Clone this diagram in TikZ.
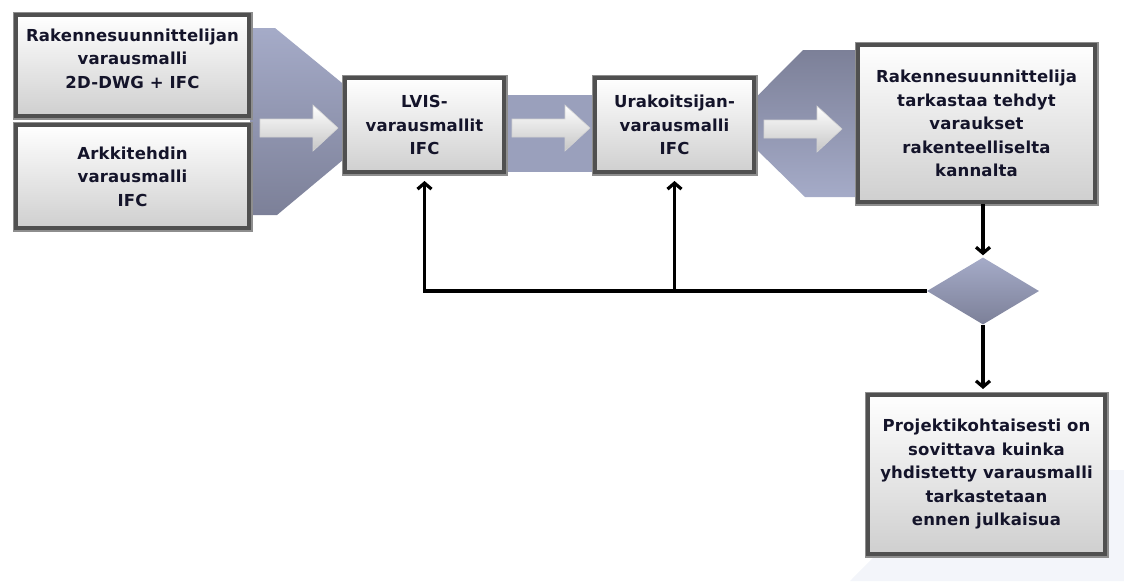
\documentclass[tikz,border=0pt]{standalone}
\usepackage{fontspec}
\setmainfont{DejaVu Sans}[LetterSpace=1]
\usetikzlibrary{shapes.geometric,arrows.meta,shadows}

\definecolor{slateA}{HTML}{A5ABC8}
\definecolor{slateB}{HTML}{7C8098}
\definecolor{bandC}{HTML}{9AA0BC}
\definecolor{inkC}{HTML}{14142A}
\definecolor{rimC}{HTML}{505050}
\definecolor{haloC}{HTML}{8E8E8E}
\definecolor{paleC}{HTML}{F3F5FA}
\definecolor{cardB}{HTML}{CFCFCF}
\definecolor{arrowB}{HTML}{C6C6C6}

\tikzset{
  card/.style={rectangle, draw=rimC, line width=4pt, top color=white,
    bottom color=cardB, text=inkC, align=center, inner sep=0pt,
    font=\bfseries\fontsize{16.5}{23.5}\selectfont,
    drop shadow={shadow xshift=3pt, shadow yshift=-4pt, opacity=.45, fill=black},
    preaction={draw=haloC, line width=7pt}},
  backshape/.style={top color=slateA, bottom color=slateB, draw=none},
  backshapeinv/.style={top color=slateB, bottom color=slateA, draw=none},
  arrowfill/.style={top color=white, bottom color=arrowB, draw=gray!35, line width=.6pt},
  decision/.style={diamond, top color=slateA, bottom color=slateB, draw=none,
    inner sep=0pt, minimum width=112pt, minimum height=67pt},
  link/.style={line width=3.2pt, -{Straight Barb[length=6pt,width=14pt]}},
  pics/flowarrow/.style={code={
    \path[arrowfill] (-39,-9) -- (14,-9) -- (14,-23) -- (39,0) -- (14,23)
      -- (14,9) -- (-39,9) -- cycle;}}
}

\begin{document}
\begin{tikzpicture}[x=1pt,y=-1pt]
\useasboundingbox (0,0) rectangle (1124,581);

% pale band behind the lower right corner
\fill[paleC] (850,581) -- (960,470) -- (1124,470) -- (1124,581) -- cycle;

% slate background shapes behind the process chain
\path[backshape] (250,28) -- (275,28) -- (389,121.5) -- (277,215) -- (250,215) -- cycle;
\path[fill=bandC] (500,95) rectangle (600,172);
\path[backshapeinv] (730,123.5) -- (803,50) -- (870,50) -- (870,197) -- (805,197) -- cycle;

% block arrows between the stages
\pic at (299,128) {flowarrow};
\pic at (551,128) {flowarrow};
\pic at (803,129) {flowarrow};

% stages
\node[card, minimum width=233pt, minimum height=101pt, text depth=14pt] (rak) at (132.5,65.5)
  {Rakennesuunnittelijan\\varausmalli\\2D-DWG + IFC};
\node[card, minimum width=233pt, minimum height=103pt] (ark) at (132.5,176.5)
  {Arkkitehdin\\varausmalli\\IFC};
\node[card, minimum width=159pt, minimum height=94pt] (lvis) at (424.5,125)
  {LVIS-\\varausmallit\\IFC};
\node[card, minimum width=159pt, minimum height=94pt] (urak) at (674.5,125)
  {Urakoitsijan-\\varausmalli\\IFC};
\node[card, minimum width=237pt, minimum height=157pt] (tark) at (976.5,123.5)
  {Rakennesuunnittelija\\tarkastaa tehdyt\\varaukset\\rakenteelliselta\\kannalta};
\node[decision] (dia) at (983,291) {};
\node[card, minimum width=237pt, minimum height=159pt] (proj) at (986.5,474.5)
  {Projektikohtaisesti on\\sovittava kuinka\\yhdistetty varausmalli\\tarkastetaan\\ennen julkaisua};

% connectors
\draw[link, shorten >=2pt] (tark.south -| dia.north) -- (dia.north);
\draw[link, shorten >=4pt] (dia.south) -- (dia.south |- proj.north);
\draw[link] (dia.west) -| ([yshift=-7pt]lvis.south);
\draw[link] (urak.south |- dia.west) -- ([yshift=-7pt]urak.south);
\end{tikzpicture}
\end{document}
